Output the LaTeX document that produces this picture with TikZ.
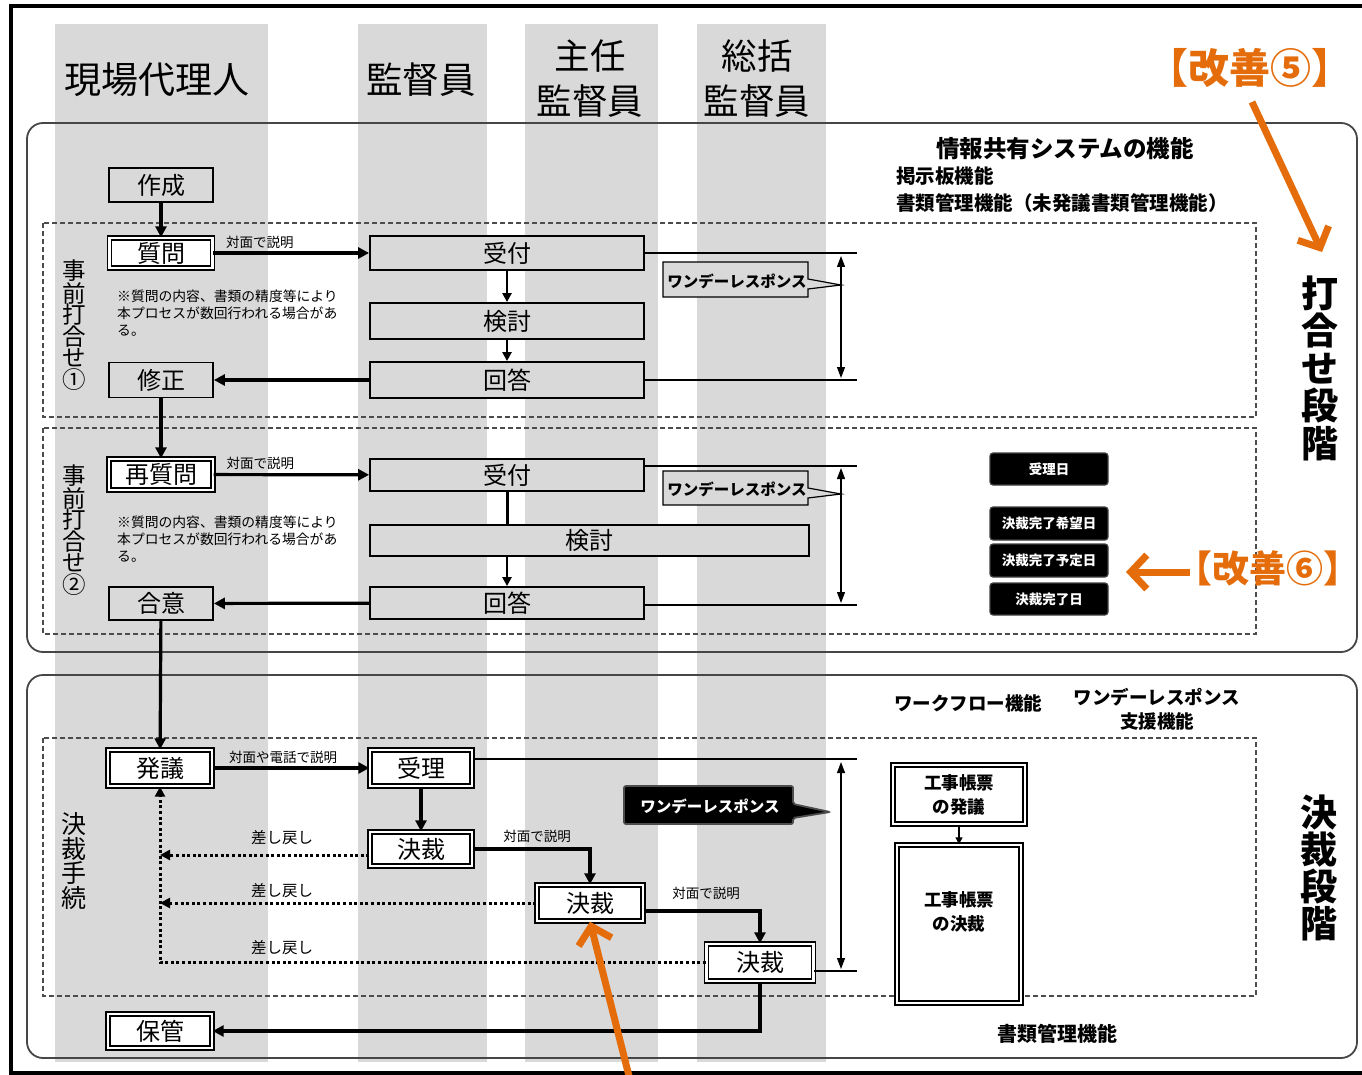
\documentclass[tikz,border=0pt]{standalone}
\usepackage{fontspec}
\setmainfont{Noto Sans CJK JP}
\usetikzlibrary{arrows.meta,calc}
\definecolor{lanegray}{HTML}{D9D9D9}
\definecolor{orng}{HTML}{E46C0A}
\newcommand{\fsz}[2]{\fontsize{#1}{#2}\selectfont}
\begin{document}
\begin{tikzpicture}[x=1pt,y=-1pt,
  lane/.style={fill=lanegray,draw=none},
  gbox/.style={draw=black,line width=1.8pt,fill=lanegray,inner sep=0pt,font=\fsz{24}{24}},
  wbox/.style={draw=black,line width=1.4pt,double=white,double distance=2.4pt,fill=white,inner sep=0pt,font=\fsz{24}{24}},
  arr/.style={line width=3.2pt,-{Triangle[length=11pt,width=11pt]}},
  sarr/.style={line width=2.6pt,-{Triangle[length=9pt,width=9pt]}},
  plainl/.style={line width=3pt},
  dotarr/.style={line width=3pt,dash pattern=on 3pt off 2.6pt,-{Triangle[length=10pt,width=10pt]}},
  thinl/.style={line width=1.2pt},
  dbl/.style={line width=1.2pt,{Triangle[length=11pt,width=8pt]}-{Triangle[length=11pt,width=8pt]}},
  dashbox/.style={draw=gray!60!black,line width=1.2pt,dash pattern=on 5pt off 3pt},
  roundbox/.style={draw=gray!55!black,line width=1.8pt,rounded corners=16pt},
  lbl/.style={font=\fsz{13.5}{13.5},inner sep=0pt},
  note/.style={font=\fsz{13.8}{16.8},align=left,inner sep=0pt,anchor=north west},
  vlab/.style={align=center,inner sep=0pt},
  datebox/.style={fill=black,draw=gray!50!black,line width=1.2pt,rounded corners=3pt,text=white,font=\bfseries\fsz{13.5}{13.5},minimum width=118pt,inner sep=0pt},
  orarr/.style={draw=orng,line width=7pt,-{Straight Barb[length=16pt,width=34pt]}},
  head/.style={font=\fsz{35.5}{45},align=center,inner sep=0pt}
]
\useasboundingbox (0,0) rectangle (1362,1075);
% lanes
\fill[lane] (55,24) rectangle (268,1062);
\fill[lane] (358,24) rectangle (487,1062);
\fill[lane] (525,24) rectangle (658,1062);
\fill[lane] (697,24) rectangle (826,1062);
% frame
\draw[line width=3.5pt] (1370,6) -- (11,6) -- (11,1073) -- (1370,1073);
% headers
\node[head,font=\fsz{37}{37}] (h1) at (157,80) {現場代理人};
\node[head,font=\fsz{36.5}{36.5}] (h2) at (421,80) {監督員};
\node[head] (h3) at (590,79) {主任\\監督員};
\node[head] (h4) at (757,79) {総括\\監督員};
% improvement 5
\node[font=\bfseries\fsz{41}{41},text=orng,inner sep=0pt] (k5) at (1250,68) {【改善⑤】};
\coordinate (k5t) at (1322,252);
\coordinate (k5s) at (1252,102);
% round boxes
\draw[roundbox] (27,123) rectangle (1357,652);
\draw[roundbox] (27,675) rectangle (1357,1058);
% dashed boxes
\draw[dashbox] (43,223) rectangle (1256,417);
\draw[dashbox] (43,428) rectangle (1256,634);
\draw[dashbox] (43,738) rectangle (1256,996);
% top texts
\node[font=\bfseries\fsz{23.5}{23.5},inner sep=0pt] (sys) at (1065,149) {情報共有システムの機能};
\node[font=\bfseries\fsz{19.5}{19.5},inner sep=0pt,anchor=west] (kei) at (896,176) {掲示板機能};
\node[font=\bfseries\fsz{19.5}{19.5},inner sep=0pt,anchor=west] (sho) at (896,203) {書類管理機能（未発議書類管理機能）};
\node[vlab,font=\bfseries\fsz{37}{37.5}] (uchi) at (1320,368) {打\\合\\せ\\段\\階};
\node[vlab,font=\bfseries\fsz{37}{37}] (kesd) at (1319,868) {決\\裁\\段\\階};
% left vertical labels
\node[vlab,font=\fsz{23.5}{21.6}] (v1) at (74,325) {事\\前\\打\\合\\せ\\①};
\node[vlab,font=\fsz{23.5}{21.6}] (v2) at (74,530) {事\\前\\打\\合\\せ\\②};
\node[vlab,font=\fsz{25}{24.5}] (v3) at (74,861) {決\\裁\\手\\続};
% left nodes
\node[gbox,minimum width=104pt,minimum height=34pt] (sakusei) at (161,185) {作成};
\node[wbox,minimum width=103pt,minimum height=30pt] (shitsumon) at (161,253) {質問};
\node[gbox,minimum width=104pt,minimum height=35pt] (shusei) at (161,380) {修正};
\node[wbox,minimum width=104pt,minimum height=31pt] (saishitsu) at (161,474.5) {再質問};
\node[gbox,minimum width=104pt,minimum height=33pt] (goi) at (161,603.5) {合意};
\node[wbox,minimum width=104pt,minimum height=36pt] (hatsugi) at (160,768) {発議};
\node[wbox,minimum width=104pt,minimum height=34pt] (hokan) at (160,1031) {保管};
% middle nodes
\node[gbox,minimum width=274pt,minimum height=34pt] (uke1) at (507,253) {受付};
\node[gbox,minimum width=274pt,minimum height=36pt] (kento1) at (507,321) {検討};
\node[gbox,minimum width=274pt,minimum height=36pt] (kaito1) at (507,380) {回答};
\node[gbox,minimum width=274pt,minimum height=32pt] (uke2) at (507,475) {受付};
\node[gbox,minimum width=439pt,minimum height=31pt] (kento2) at (589.5,540.5) {検討};
\node[gbox,minimum width=274pt,minimum height=32pt] (kaito2) at (507,603) {回答};
\node[wbox,minimum width=102pt,minimum height=36pt] (juri) at (421,768) {受理};
\node[wbox,minimum width=102pt,minimum height=34pt] (kessai1) at (421,849) {決裁};
\node[wbox,minimum width=106pt,minimum height=36pt] (kessai2) at (590,903) {決裁};
\node[wbox,minimum width=107pt,minimum height=37pt] (kessai3) at (760,962.5) {決裁};
% notes
\node[note] (n1) at (117,290) {※質問の内容、書類の精度等により\\本プロセスが数回行われる場合があ\\る。};
\node[note] (n2) at (117,516) {※質問の内容、書類の精度等により\\本プロセスが数回行われる場合があ\\る。};
% flow arrows
\draw[arr] (sakusei) -- (shitsumon);
\draw[arr] (shitsumon) -- (uke1) node[lbl,pos=0.3,above=3pt] {対面で説明};
\draw[sarr] (uke1) -- (kento1);
\draw[sarr] (kento1) -- (kaito1);
\draw[arr] (kaito1) -- (shusei);
\draw[arr] (shusei) -- (saishitsu);
\draw[arr] (saishitsu) -- (uke2) node[lbl,pos=0.3,above=3pt] {対面で説明};
\draw[plainl] (uke2) -- (kento2.north -| uke2);
\draw[sarr] (kento2.south -| uke2) -- (kaito2);
\draw[arr] (kaito2) -- (goi);
\draw[arr] (goi) -- (hatsugi);
\draw[arr] (hatsugi) -- (juri) node[lbl,pos=0.45,above=3pt] {対面や電話で説明};
\draw[arr] (juri) -- (kessai1);
\draw[arr] (kessai1.east) -| (kessai2.north);
\node[lbl] (lb4) at (537,836) {対面で説明};
\coordinate (k2r) at (650,911);
\draw[arr] (kessai2.east |- k2r) -| (kessai3.north);
\node[lbl] (lb5) at (706,893) {対面で説明};
\draw[arr] (kessai3.south) |- (hokan.east);
% send back
\coordinate (r1) at (160,855);
\draw[dotarr] (kessai1.west |- r1) -- (r1);
\draw[dotarr] (kessai2.west) -- (kessai2.west -| hatsugi);
\draw[dotarr] (kessai3.west) -| (hatsugi.south);
\node[font=\fsz{15.5}{15.5},inner sep=0pt] (s1) at (282,838) {差し戻し};
\node[font=\fsz{15.5}{15.5},inner sep=0pt] (s2) at (282,891) {差し戻し};
\node[font=\fsz{15.5}{15.5},inner sep=0pt] (s3) at (282,948) {差し戻し};
% one day response 1
\coordinate (t1) at (857,253);
\coordinate (t2) at (857,380);
\draw[thinl] (uke1.east) -- (t1);
\draw[thinl] (kaito1.east) -- (t2);
\coordinate (a1) at (841,256);
\coordinate (a2) at (841,378);
\draw[dbl] (a1) -- (a2);
\draw[fill=lanegray,line width=1.2pt] (663,262) -- (808,262) -- (808,279) -- (841,285) -- (808,289) -- (808,297) -- (663,297) -- cycle;
\node[font=\bfseries\fsz{15.5}{15.5},inner sep=0pt] (c1) at (737,281) {ワンデーレスポンス};
% one day response 2
\coordinate (t3) at (857,466);
\coordinate (t4) at (857,605);
\draw[thinl] (uke2.east |- t3) -- (t3);
\draw[thinl] (kaito2.east |- t4) -- (t4);
\coordinate (a3) at (841,468);
\coordinate (a4) at (841,603);
\draw[dbl] (a3) -- (a4);
\draw[fill=lanegray,line width=1.2pt] (663,471) -- (808,471) -- (808,488) -- (841,494) -- (808,498) -- (808,505) -- (663,505) -- cycle;
\node[font=\bfseries\fsz{15.5}{15.5},inner sep=0pt] (c2) at (737,489) {ワンデーレスポンス};
% one day response 3
\coordinate (t5) at (857,759);
\coordinate (t6) at (857,971);
\draw[thinl] (juri.east |- t5) -- (t5);
\draw[thinl] (kessai3.east |- t6) -- (t6);
\coordinate (a5) at (841,762);
\coordinate (a6) at (841,969);
\draw[dbl] (a5) -- (a6);
\draw[fill=black,draw=gray!60!black,line width=1.8pt,rounded corners=2pt] (624,786) -- (793,786) -- (793,804) -- (830,812) -- (793,818) -- (793,824) -- (624,824) -- cycle;
\node[font=\bfseries\fsz{15.5}{15.5},text=white,inner sep=0pt] (c3) at (710,806) {ワンデーレスポンス};
% date boxes
\node[datebox,minimum height=32pt] (d1) at (1049,469) {受理日};
\node[datebox,minimum height=33pt] (d2) at (1049,523.5) {決裁完了希望日};
\node[datebox,minimum height=33pt] (d3) at (1049,560.5) {決裁完了予定日};
\node[datebox,minimum height=32pt] (d4) at (1049,599) {決裁完了日};
\node[font=\bfseries\fsz{37}{37},text=orng,inner sep=0pt] (k6) at (1268,568) {【改善⑥】};
\coordinate (k6t) at (1126,572);
\coordinate (k6s) at (1190,572);
\draw[orarr] (k6s) -- (k6t);
% lower box texts
\node[font=\bfseries\fsz{18.5}{18.5},inner sep=0pt] (wf) at (968,703) {ワークフロー機能};
\node[font=\bfseries\fsz{18.5}{24},align=center,inner sep=0pt] (ods) at (1157,709) {ワンデーレスポンス\\支援機能};
\node[font=\bfseries\fsz{20}{20},inner sep=0pt] (shb) at (1057,1034) {書類管理機能};
\node[wbox,minimum width=132pt,minimum height=59pt,font=\bfseries\fsz{17.5}{24},align=center] (kb1) at (959,794.5) {工事帳票\\の発議};
\node[wbox,minimum width=124pt,minimum height=158pt] (kb2) at (959,924) {};
\node[font=\bfseries\fsz{17.5}{24},align=center,inner sep=0pt] (kb2t) at (959,912) {工事帳票\\の決裁};
\draw[line width=1.2pt,-{Triangle[length=7pt,width=7pt]}] (kb1) -- (kb2);
% orange arrows
\draw[orarr] (k5s) -- (k5t);
\coordinate (o1) at (630,1080);
\draw[orarr] (o1) -- (kessai2.south);
\end{tikzpicture}
\end{document}
